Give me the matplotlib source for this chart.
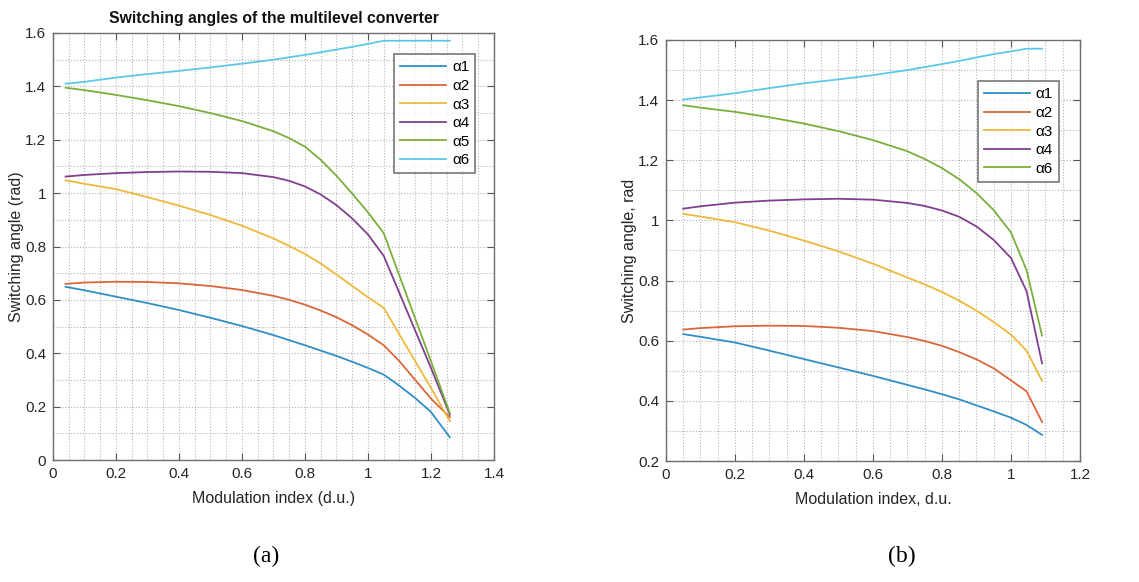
import numpy as np
import matplotlib
matplotlib.use('Agg')
import matplotlib.pyplot as plt
from matplotlib.ticker import MultipleLocator

plt.rcParams['font.family'] = ['Liberation Sans', 'DejaVu Sans']

# (a) switching angles, 6 angles
xa = [0.04, 0.1, 0.2, 0.3, 0.4, 0.5, 0.6, 0.7, 0.75, 0.8, 0.85, 0.9, 0.95, 1.0, 1.05, 1.1, 1.15, 1.2, 1.26]
a1_a = [0.649, 0.636, 0.612, 0.588, 0.562, 0.533, 0.502, 0.468, 0.449, 0.43, 0.41, 0.39, 0.368, 0.345, 0.32, 0.278, 0.232, 0.18, 0.085]
a2_a = [0.660, 0.665, 0.668, 0.667, 0.662, 0.652, 0.637, 0.615, 0.600, 0.582, 0.560, 0.535, 0.505, 0.47, 0.43, 0.37, 0.30, 0.23, 0.16]
a3_a = [1.048, 1.035, 1.015, 0.985, 0.953, 0.918, 0.878, 0.830, 0.802, 0.772, 0.736, 0.695, 0.652, 0.61, 0.57, 0.47, 0.37, 0.27, 0.145]
a4_a = [1.062, 1.068, 1.075, 1.079, 1.081, 1.080, 1.075, 1.060, 1.046, 1.025, 0.995, 0.955, 0.905, 0.845, 0.765, 0.625, 0.485, 0.345, 0.17]
a5_a = [1.395, 1.386, 1.368, 1.348, 1.326, 1.300, 1.270, 1.232, 1.206, 1.174, 1.125, 1.065, 0.998, 0.928, 0.85, 0.69, 0.53, 0.37, 0.175]
a6_a = [1.41, 1.417, 1.433, 1.446, 1.458, 1.471, 1.485, 1.50, 1.509, 1.518, 1.528, 1.538, 1.548, 1.559, 1.571, 1.571, 1.571, 1.571, 1.571]
labels_a = ['α1', 'α2', 'α3', 'α4', 'α5', 'α6']

# (b)
xb = [0.05, 0.1, 0.2, 0.3, 0.4, 0.5, 0.6, 0.7, 0.75, 0.8, 0.85, 0.9, 0.95, 1.0, 1.045, 1.09]
a1_b = [0.622, 0.613, 0.594, 0.567, 0.539, 0.511, 0.483, 0.453, 0.438, 0.422, 0.405, 0.385, 0.365, 0.344, 0.32, 0.287]
a2_b = [0.637, 0.642, 0.648, 0.650, 0.649, 0.643, 0.632, 0.612, 0.599, 0.583, 0.562, 0.538, 0.508, 0.468, 0.432, 0.33]
a3_b = [1.022, 1.013, 0.994, 0.966, 0.933, 0.897, 0.856, 0.81, 0.787, 0.762, 0.733, 0.700, 0.662, 0.620, 0.567, 0.467]
a4_b = [1.039, 1.047, 1.059, 1.066, 1.070, 1.072, 1.069, 1.058, 1.048, 1.033, 1.012, 0.98, 0.935, 0.875, 0.765, 0.525]
a5_b = [1.383, 1.375, 1.361, 1.343, 1.322, 1.297, 1.267, 1.230, 1.204, 1.174, 1.137, 1.091, 1.034, 0.960, 0.835, 0.617]
a6_b = [1.402, 1.409, 1.423, 1.44, 1.456, 1.469, 1.483, 1.5, 1.51, 1.52, 1.53, 1.542, 1.553, 1.562, 1.571, 1.571]
labels_b = ['α1', 'α2', 'α3', 'α4', 'α6', None]

colors = ['#2f8fc6', '#d9673a', '#edb93a', '#80408f', '#7cae3e', '#5cc8e8']
txt = '#262626'

fig = plt.figure(figsize=(11.39, 5.82), dpi=100)
ax1 = fig.add_axes([0.0465, 0.2096, 0.3872, 0.7337])
ax2 = fig.add_axes([0.5847, 0.2079, 0.3635, 0.7234])


def style(ax, xmax, ymin, xlab, ylab):
    ax.set_xlim(0, xmax)
    ax.set_ylim(ymin, 1.6)
    ax.xaxis.set_major_locator(MultipleLocator(0.2))
    ax.yaxis.set_major_locator(MultipleLocator(0.2))
    ax.xaxis.set_minor_locator(MultipleLocator(0.05))
    ax.yaxis.set_minor_locator(MultipleLocator(0.1))
    ax.xaxis.set_major_formatter(lambda v, p: '%g' % round(v, 2))
    ax.yaxis.set_major_formatter(lambda v, p: '%g' % round(v, 2))
    ax.grid(True, which='both', ls=':', color='#b5b5b5', lw=0.8)
    ax.tick_params(which='major', direction='in', length=5, top=True, right=True,
                   labelsize=11, colors='#555555', labelcolor=txt, pad=5)
    ax.tick_params(which='minor', length=0)
    for s in ax.spines.values():
        s.set_color('#6e6e6e')
        s.set_linewidth(1.0)
    ax.set_xlabel(xlab, fontsize=11.5, color=txt, labelpad=7)
    ax.set_ylabel(ylab, fontsize=11.5, color=txt, labelpad=1)


series_a = [a1_a, a2_a, a3_a, a4_a, a5_a, a6_a]
for y, c, l in zip(series_a, colors, labels_a):
    ax1.plot(xa, y, color=c, lw=1.3, label=l)
style(ax1, 1.4, 0, 'Modulation index (d.u.)', 'Switching angle (rad)')
ax1.set_title('Switching angles of the multilevel converter', fontsize=11.3,
              fontweight='bold', color='#111111', pad=7)
leg1 = ax1.legend(loc='upper right', bbox_to_anchor=(0.975, 0.968), fontsize=11,
                  fancybox=False, edgecolor='#555555', handlelength=3.0,
                  labelspacing=0.3, borderpad=0.4, handletextpad=0.4)
leg1.get_frame().set_linewidth(1.2)

series_b = [a1_b, a2_b, a3_b, a4_b, a5_b, a6_b]
for y, c, l in zip(series_b, colors, labels_b):
    ax2.plot(xb, y, color=c, lw=1.3, label=l)
style(ax2, 1.2, 0.2, 'Modulation index, d.u.', 'Switching angle, rad')
leg2 = ax2.legend(loc='upper right', bbox_to_anchor=(0.968, 0.92), fontsize=11,
                  fancybox=False, edgecolor='#555555', handlelength=3.0,
                  labelspacing=0.3, borderpad=0.4, handletextpad=0.4)
leg2.get_frame().set_linewidth(1.2)

fig.text(266 / 1139, 1 - 556 / 582, '(a)', fontsize=17, family='Liberation Serif',
         ha='center', va='center')
fig.text(902 / 1139, 1 - 556 / 582, '(b)', fontsize=17, family='Liberation Serif',
         ha='center', va='center')

fig.savefig('out.png', dpi=100)
